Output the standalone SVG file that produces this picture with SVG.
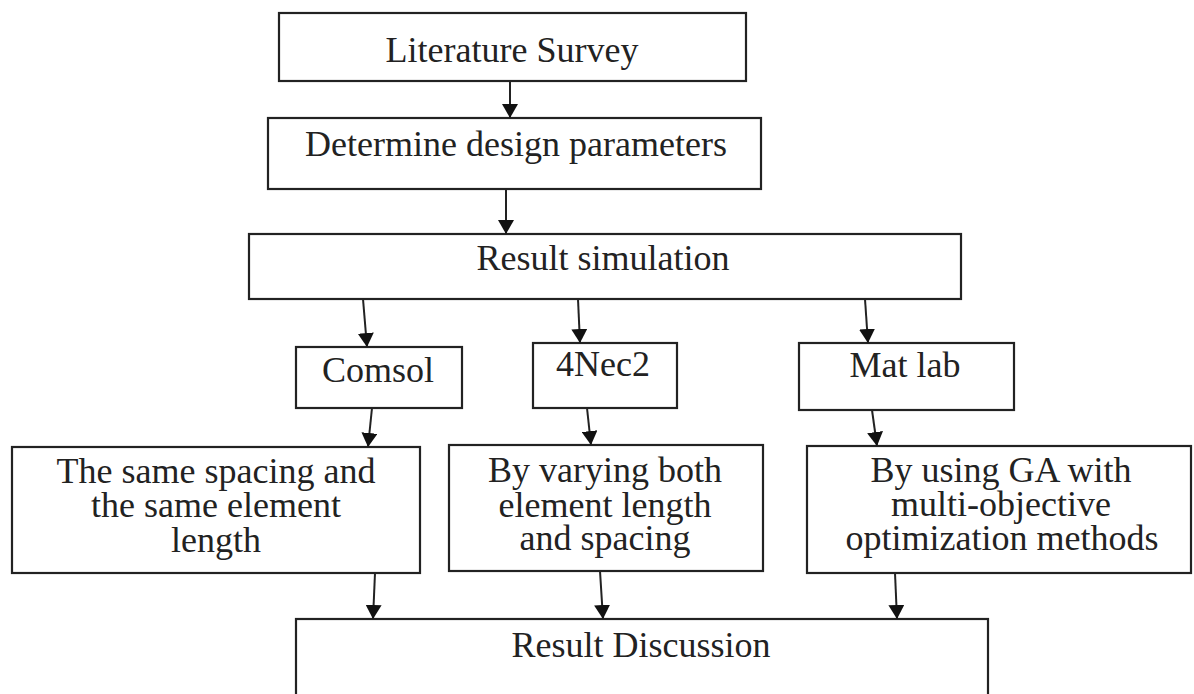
<svg xmlns="http://www.w3.org/2000/svg" width="1194" height="694" viewBox="0 0 1194 694">
<style>
.box{fill:#fff;stroke:#222;stroke-width:2.2}
.t{font-family:"Liberation Serif","Times New Roman",serif;font-size:36px;fill:#222;text-anchor:middle}
.c{stroke:#222;stroke-width:2;fill:none;marker-end:url(#ah)}
</style>
<defs>
<marker id="ah" viewBox="0 0 14 16" refX="14" refY="8" markerWidth="14" markerHeight="16" markerUnits="userSpaceOnUse" orient="auto">
<path d="M0,0 L14,8 L0,16 z" fill="#111"/>
</marker>
</defs>
<rect width="1194" height="694" fill="#fff"/>
<g id="literature-survey"><rect class="box" x="279" y="13" width="467" height="68"/><text class="t" x="512" y="62">Literature Survey</text></g>
<g id="design-parameters"><rect class="box" x="268" y="118" width="493" height="71"/><text class="t" x="516" y="156">Determine design parameters</text></g>
<g id="result-simulation"><rect class="box" x="249" y="234" width="712" height="65"/><text class="t" x="603" y="270">Result simulation</text></g>
<g id="comsol"><rect class="box" x="296" y="347" width="166" height="61"/><text class="t" x="378" y="382">Comsol</text></g>
<g id="nec2"><rect class="box" x="533" y="343" width="144" height="65"/><text class="t" x="603" y="376">4Nec2</text></g>
<g id="matlab"><rect class="box" x="799" y="343" width="215" height="67"/><text class="t" x="905" y="377">Mat lab</text></g>
<g id="same-spacing"><rect class="box" x="12" y="447" width="408" height="126"/><text class="t" x="216" y="483">The same spacing and</text><text class="t" x="216" y="517">the same element</text><text class="t" x="216" y="552">length</text></g>
<g id="varying"><rect class="box" x="449" y="445" width="314" height="126"/><text class="t" x="605" y="482">By varying both</text><text class="t" x="605" y="517">element length</text><text class="t" x="605" y="550">and spacing</text></g>
<g id="ga"><rect class="box" x="807" y="446" width="384" height="127"/><text class="t" x="1001" y="482">By using GA with</text><text class="t" x="1001" y="516">multi-objective</text><text class="t" x="1002" y="550">optimization methods</text></g>
<g id="result-discussion"><rect class="box" x="296" y="619" width="692" height="90"/><text class="t" x="641" y="657">Result Discussion</text></g>
<g id="connectors">
<line class="c" x1="510" y1="81" x2="510" y2="118"/>
<line class="c" x1="506" y1="189" x2="506" y2="234"/>
<line class="c" x1="363" y1="299" x2="367" y2="347"/>
<line class="c" x1="578" y1="299" x2="580" y2="343"/>
<line class="c" x1="865" y1="299" x2="868" y2="343"/>
<line class="c" x1="372" y1="408" x2="368" y2="447"/>
<line class="c" x1="587" y1="408" x2="591" y2="445"/>
<line class="c" x1="872" y1="410" x2="877" y2="446"/>
<line class="c" x1="375" y1="573" x2="373" y2="619"/>
<line class="c" x1="600" y1="571" x2="603" y2="619"/>
<line class="c" x1="895" y1="573" x2="897" y2="619"/>
</g>
</svg>
